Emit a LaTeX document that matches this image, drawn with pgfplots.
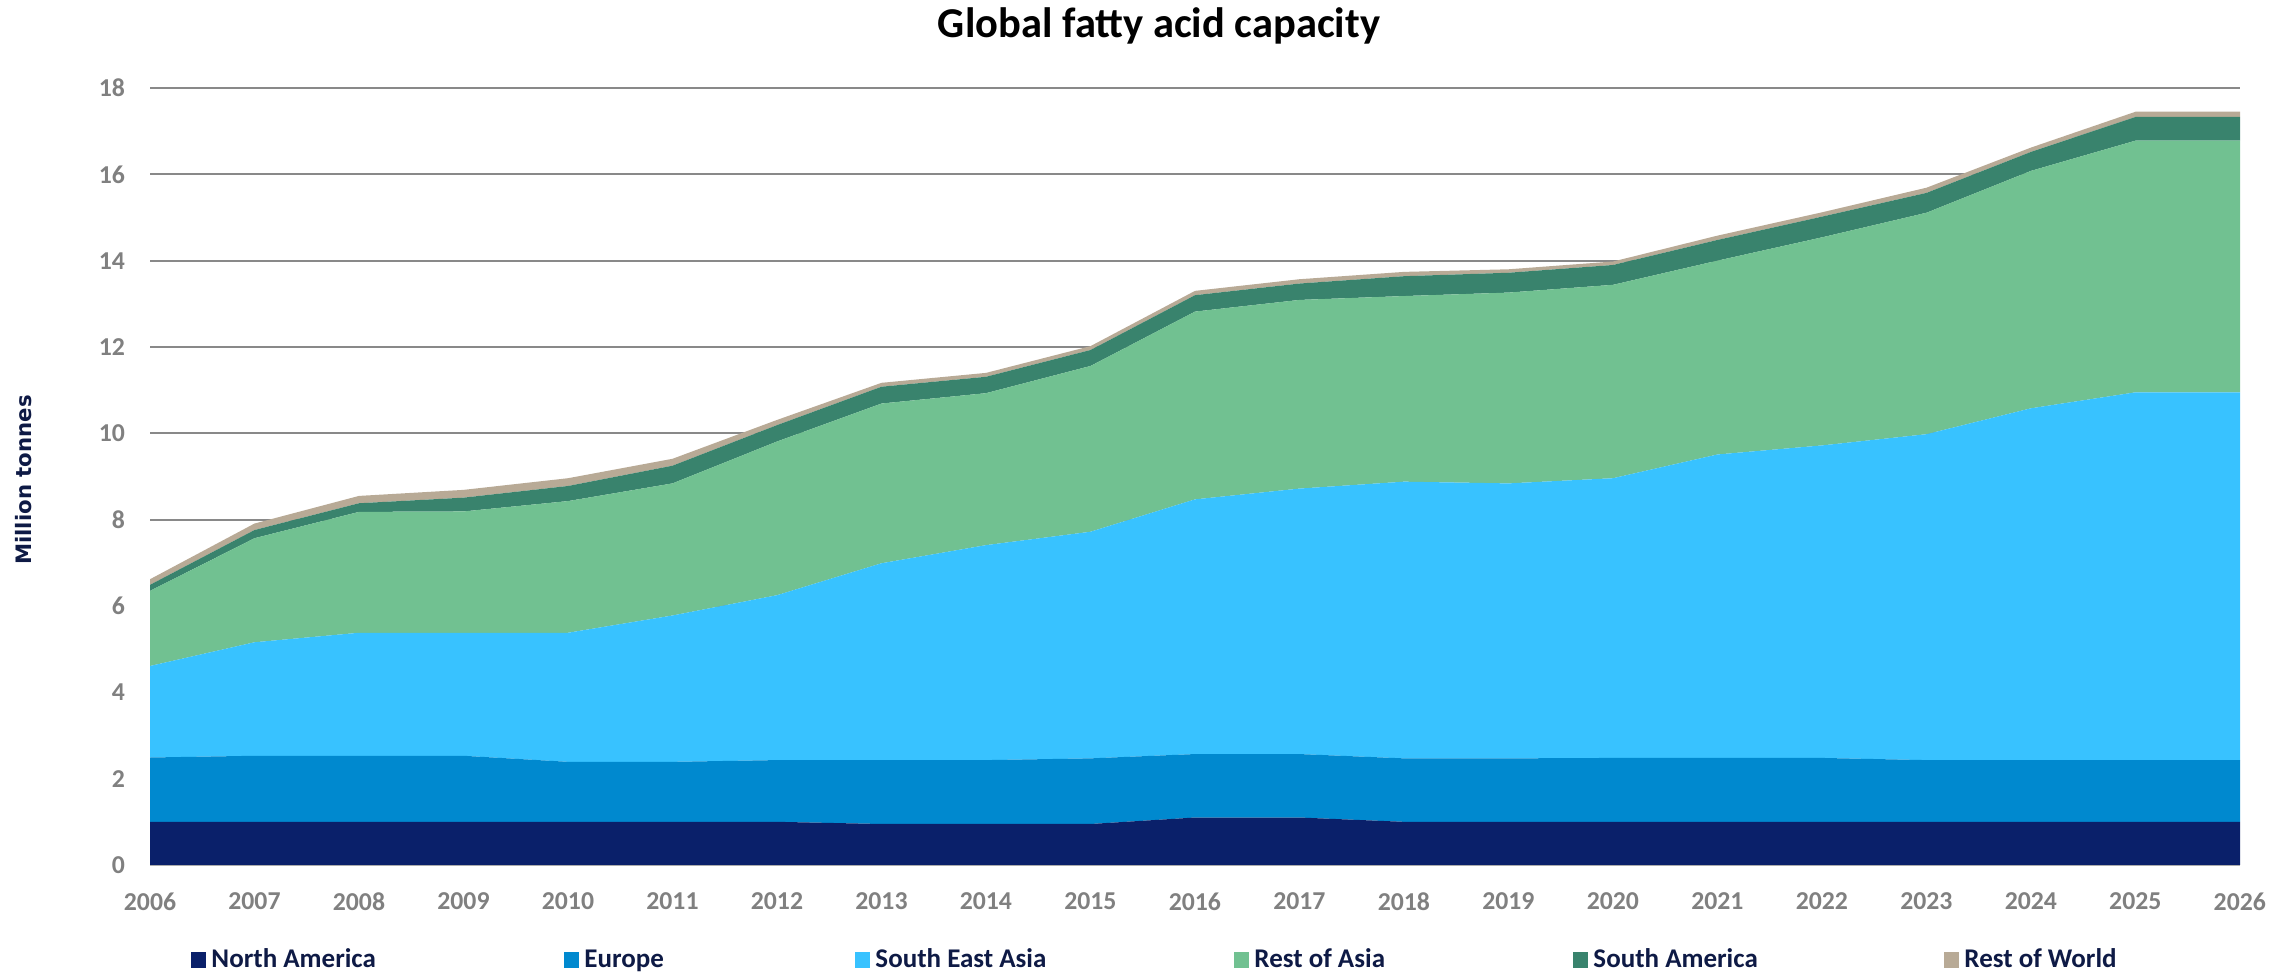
\documentclass[border=0pt]{standalone}
\usepackage{fontspec}
\setmainfont{Carlito}
\newfontfamily\labelfont{DejaVu Sans}
\usepackage{pgfplots}
\pgfplotsset{compat=1.18}
\usepackage{pgfplotstable}

\definecolor{cNA}{HTML}{0A206A}
\definecolor{cEU}{HTML}{0089CF}
\definecolor{cSEA}{HTML}{38C2FF}
\definecolor{cRoA}{HTML}{71C191}
\definecolor{cSA}{HTML}{39836D}
\definecolor{cRoW}{HTML}{B8AA96}
\definecolor{gridgray}{HTML}{898989}
\definecolor{tickgray}{HTML}{808080}
\definecolor{navytext}{HTML}{0E1A45}

% Fatty acid capacity by region, million tonnes
\pgfplotstableread{
year NA   EU   SEA  RoA  SA   RoW
2006 1.00 1.49 2.12 1.74 0.14 0.13
2007 1.00 1.53 2.63 2.41 0.19 0.15
2008 1.00 1.53 2.85 2.80 0.20 0.17
2009 1.00 1.53 2.85 2.81 0.32 0.18
2010 1.00 1.39 2.99 3.05 0.35 0.18
2011 1.00 1.39 3.39 3.06 0.41 0.16
2012 1.00 1.43 3.82 3.56 0.38 0.12
2013 0.95 1.48 4.56 3.70 0.39 0.09
2014 0.95 1.48 4.98 3.52 0.38 0.09
2015 0.95 1.52 5.25 3.84 0.37 0.09
2016 1.10 1.47 5.90 4.35 0.38 0.10
2017 1.10 1.47 6.15 4.37 0.38 0.10
2018 1.00 1.47 6.41 4.30 0.46 0.10
2019 1.00 1.47 6.37 4.42 0.46 0.08
2020 1.00 1.48 6.48 4.48 0.46 0.08
2021 1.00 1.48 7.03 4.49 0.48 0.10
2022 1.00 1.48 7.24 4.82 0.48 0.10
2023 1.00 1.43 7.55 5.13 0.46 0.12
2024 1.00 1.43 8.15 5.50 0.44 0.10
2025 1.00 1.43 8.52 5.83 0.55 0.12
2026 1.00 1.43 8.52 5.83 0.55 0.12
}\capacity

\begin{document}
\begin{tikzpicture}
\useasboundingbox (0,0) rectangle (916.8pt,390pt);
\begin{axis}[
  at={(60pt,44pt)}, anchor=south west,
  scale only axis, width=836pt, height=310.8pt,
  xmin=2006, xmax=2026, ymin=0, ymax=18,
  xtick={2006,...,2026}, ytick={0,2,...,18},
  stack plots=y,
  axis x line*=bottom, axis y line*=left,
  x axis line style={-, draw=gridgray!70, line width=0.5pt},
  y axis line style={draw=none},
  major tick length=0pt,
  ymajorgrids,
  grid style={draw=gridgray, line width=0.8pt},
  tick label style={font=\bfseries\fontsize{10.3}{12}\selectfont, text=tickgray},
  xticklabel style={yshift=-7.7pt},
  yticklabel style={xshift=-6.5pt},
  /pgf/number format/assume math mode=true,
  /pgf/number format/1000 sep={},
  title={Global fatty acid capacity},
  every axis title/.style={font=\bfseries\fontsize{17}{20}\selectfont, text=black,
    at={(axis description cs:0.4828,1.0798)}, anchor=center},
  ylabel={Million tonnes},
  ylabel style={font=\labelfont\bfseries\fontsize{8.5}{10}\selectfont, text=navytext,
    at={(axis description cs:-0.0603,0.4955)}, anchor=center},
  legend columns=6,
  legend image code/.code={\fill[#1] (0pt,0pt) rectangle (6pt,6.4pt);},
  legend style={at={(axis description cs:0.0196,-0.1223)}, anchor=west,
    draw=none, fill=none, inner sep=0pt,
    /tikz/column sep=0pt, cells={anchor=base west},
    nodes={inner xsep=2pt, inner ysep=1pt, text=navytext,
      font=\bfseries\fontsize{10.8}{12}\selectfont}},
]
\addplot[fill=cNA, draw=none]  table[x=year, y=NA]  {\capacity} \closedcycle;
\addlegendentry{\makebox[139.2pt][l]{North America}}
\addplot[fill=cEU, draw=none]  table[x=year, y=EU]  {\capacity} \closedcycle;
\addlegendentry{\makebox[106.4pt][l]{Europe}}
\addplot[fill=cSEA, draw=none] table[x=year, y=SEA] {\capacity} \closedcycle;
\addlegendentry{\makebox[141.6pt][l]{South East Asia}}
\addplot[fill=cRoA, draw=none] table[x=year, y=RoA] {\capacity} \closedcycle;
\addlegendentry{\makebox[125.6pt][l]{Rest of Asia}}
\addplot[fill=cSA, draw=none]  table[x=year, y=SA]  {\capacity} \closedcycle;
\addlegendentry{\makebox[138.4pt][l]{South America}}
\addplot[fill=cRoW, draw=none] table[x=year, y=RoW] {\capacity} \closedcycle;
\addlegendentry{Rest of World}
\end{axis}
\end{tikzpicture}
\end{document}
